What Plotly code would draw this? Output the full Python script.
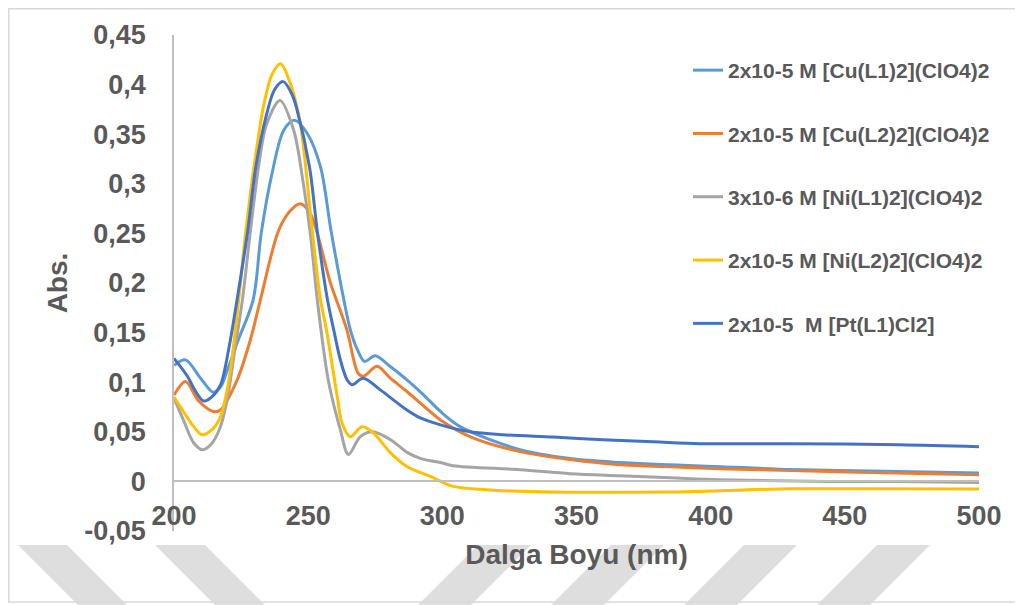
import plotly.graph_objects as go

# ---------------- data ----------------
cu_l1_x = [200, 204.3, 209.9, 214.5, 217.3, 220, 224, 229.5, 232.5, 236.5, 240.9, 244.9, 249.6, 254.6,
           258.5, 263.3, 265.7, 268.3, 271, 275, 280.6, 286.8, 293, 299.3, 306.8, 329, 347.7, 366, 385,
           404, 430, 460, 500]
cu_l1_y = [0.117, 0.1225, 0.104, 0.090, 0.095, 0.113, 0.143, 0.183, 0.25, 0.31, 0.354, 0.364, 0.351, 0.317,
           0.253, 0.183, 0.153, 0.133, 0.121, 0.1266, 0.1158, 0.1024, 0.0873, 0.0705, 0.055, 0.032, 0.023,
           0.019, 0.0168, 0.0148, 0.012, 0.0105, 0.0085]

cu_l2_x = [200, 204.3, 209.2, 214.7, 217.3, 223.5, 228.5, 232.2, 239, 243.4, 247, 250.8, 258.3, 264.4,
           268.6, 270.6, 275.7, 280.6, 286.8, 293, 299.3, 310.5, 329, 347.7, 366, 385, 403.6, 430, 460, 500]
cu_l2_y = [0.087, 0.1007, 0.081, 0.0705, 0.072, 0.102, 0.143, 0.183, 0.253, 0.273, 0.280, 0.27, 0.2, 0.153,
           0.109, 0.106, 0.116, 0.104, 0.0906, 0.0762, 0.062, 0.045, 0.030, 0.022, 0.0168, 0.0148, 0.0128,
           0.011, 0.009, 0.0067]

ni_l1_x = [200, 203.5, 207.3, 210.6, 214, 217.3, 220, 222.5, 225.5, 228.5, 231.5, 234.5, 239.5, 244.6, 248.2,
           250.8, 253.4, 257.5, 262, 265, 269.4, 274, 280.7, 287, 292, 299.3, 304, 329, 347.7, 366, 385,
           403.6, 444, 470, 500]
ni_l1_y = [0.084, 0.062, 0.039, 0.032, 0.038, 0.055, 0.085, 0.13, 0.183, 0.253, 0.317, 0.36, 0.384, 0.354,
           0.30, 0.25, 0.183, 0.102, 0.052, 0.027, 0.045, 0.050, 0.042, 0.029, 0.023, 0.019, 0.0158, 0.0118,
           0.0078, 0.0057, 0.0037, 0.0017, 0.0, 0.0, -0.001]

ni_l2_x = [200, 203.5, 207.4, 210.5, 214.8, 217.3, 219.8, 221.7, 224.1, 226.8, 230.5, 233.5, 236.5, 239.7,
           243.5, 247.1, 251.5, 254.6, 256.8, 260.8, 262.6, 265.7, 270.1, 274.3, 280.6, 286.8, 295.5, 304,
           316.6, 329, 347.7, 385, 403.6, 429.6, 460, 500]
ni_l2_y = [0.085, 0.0705, 0.055, 0.047, 0.054, 0.065, 0.092, 0.126, 0.183, 0.253, 0.33, 0.38, 0.41, 0.421,
           0.40, 0.36, 0.253, 0.183, 0.153, 0.086, 0.059, 0.045, 0.055, 0.049, 0.029, 0.015, 0.005, -0.005,
           -0.0084, -0.010, -0.011, -0.0107, -0.0094, -0.0074, -0.0075, -0.0077]

pt_l1_x = [200, 205, 208, 211, 214, 217.3, 220.5, 223.5, 227.5, 230.5, 234.5, 237.5, 240.7, 244, 245.9,
           250.5, 253.5, 257.2, 259.5, 262, 264.5, 266.4, 270.5, 277, 286.8, 291.8, 299.3, 310.4, 322.7,
           341.3, 359.9, 378.6, 396, 429.6, 470.6, 500]
pt_l1_y = [0.124, 0.106, 0.091, 0.081, 0.085, 0.097, 0.135, 0.183, 0.253, 0.317, 0.37, 0.395, 0.403, 0.39,
           0.374, 0.317, 0.25, 0.183, 0.153, 0.1225, 0.1024, 0.0974, 0.104, 0.092, 0.072, 0.064, 0.057, 0.050,
           0.047, 0.0447, 0.042, 0.040, 0.038, 0.038, 0.037, 0.035]

series_names = ["2x10-5 M [Cu(L1)2](ClO4)2", "2x10-5 M [Cu(L2)2](ClO4)2", "3x10-6 M [Ni(L1)2](ClO4)2",
                "2x10-5 M [Ni(L2)2](ClO4)2", "2x10-5  M [Pt(L1)Cl2]"]
series_colors = ["#5B9BD5", "#ED7D31", "#A5A5A5", "#FFC000", "#4472C4"]

x_ticks = [200, 250, 300, 350, 400, 450, 500]
x_tick_labels = ["200", "250", "300", "350", "400", "450", "500"]
y_ticks = [-0.05, 0, 0.05, 0.1, 0.15, 0.2, 0.25, 0.3, 0.35, 0.4, 0.45]
y_tick_labels = ["-0,05", "0", "0,05", "0,1", "0,15", "0,2", "0,25", "0,3", "0,35", "0,4", "0,45"]

x_title = "Dalga Boyu (nm)"
y_title = "Abs."

# ---------------- figure ----------------
OFF = 8  # page body margin
W, H = 1023 - OFF, 605 - OFF
ML, MT = 174 - OFF, 35 - OFF
PW, PH = 805, 496
MR, MB = W - ML - PW, H - MT - PH


def px2x(px):
    return (px - OFF - ML) / PW


def py2y(py):
    return (MT + PH - (py - OFF)) / PH


TXT = "#595959"
FONT = "Liberation Sans, Arial, sans-serif"

fig = go.Figure()
xs = [cu_l1_x, cu_l2_x, ni_l1_x, ni_l2_x, pt_l1_x]
ys = [cu_l1_y, cu_l2_y, ni_l1_y, ni_l2_y, pt_l1_y]
for i, (xv, yv) in enumerate(zip(xs, ys)):
    fig.add_trace(go.Scatter(x=xv, y=yv, mode="lines", name=series_names[i],
                             legendgroup=f"g{i}",
                             line=dict(color=series_colors[i], width=3, shape="spline", smoothing=0.9)))

# watermark shapes and chart border
shapes = []
back = [[(18, 545), (67, 545), (127, 605), (78, 605)],
        [(155, 545), (205, 545), (265, 605), (215, 605)]]
fwd = [[(478, 545), (531, 545), (471, 605), (418, 605)],
       [(611, 545), (664, 545), (604, 605), (551, 605)],
       [(744, 545), (797, 545), (737, 605), (684, 605)],
       [(877, 545), (930, 545), (870, 605), (817, 605)]]
for poly in back + fwd:
    path = "M " + " L ".join(f"{px2x(a):.5f},{py2y(b):.5f}" for a, b in poly) + " Z"
    shapes.append(dict(type="path", path=path, xref="paper", yref="paper",
                       fillcolor="#DEDEDE", line=dict(width=0), layer="below"))
shapes.append(dict(type="rect", xref="paper", yref="paper",
                   x0=px2x(8.8), x1=px2x(1016), y0=py2y(602), y1=py2y(8.8),
                   line=dict(color="#D9D9D9", width=1.5), fillcolor="rgba(0,0,0,0)", layer="above"))

fig.update_layout(
    width=W, height=H,
    margin=dict(l=ML, r=MR, t=MT, b=MB),
    paper_bgcolor="white", plot_bgcolor="rgba(0,0,0,0)",
    font=dict(family=FONT, color=TXT),
    shapes=shapes,
    showlegend=True,
    legend=dict(x=px2x(688), y=py2y(50), xanchor="left", yanchor="top",
                font=dict(family=FONT, size=21, color=TXT, weight="bold"),
                tracegroupgap=33, bgcolor="rgba(0,0,0,0)"),
    xaxis=dict(range=[200, 500], tickvals=x_ticks, ticktext=x_tick_labels,
               anchor="free", position=0.1, showline=True, linecolor="#BFBFBF", linewidth=1.5,
               showgrid=False, zeroline=False, ticks="", ticklabelstandoff=10,
               tickfont=dict(family=FONT, size=27, color=TXT, weight="bold"),
               title=dict(text=x_title, standoff=14,
                          font=dict(family=FONT, size=28, color=TXT, weight="bold"))),
    yaxis=dict(range=[-0.05, 0.45], tickvals=y_ticks, ticktext=y_tick_labels,
               showline=True, linecolor="#BFBFBF", linewidth=1.5,
               showgrid=False, zeroline=False, ticks="", ticklabelstandoff=21,
               tickfont=dict(family=FONT, size=27, color=TXT, weight="bold"),
               title=dict(text=y_title, standoff=9,
                          font=dict(family=FONT, size=28, color=TXT, weight="bold"))),
)

fig.write_html("out.html")
